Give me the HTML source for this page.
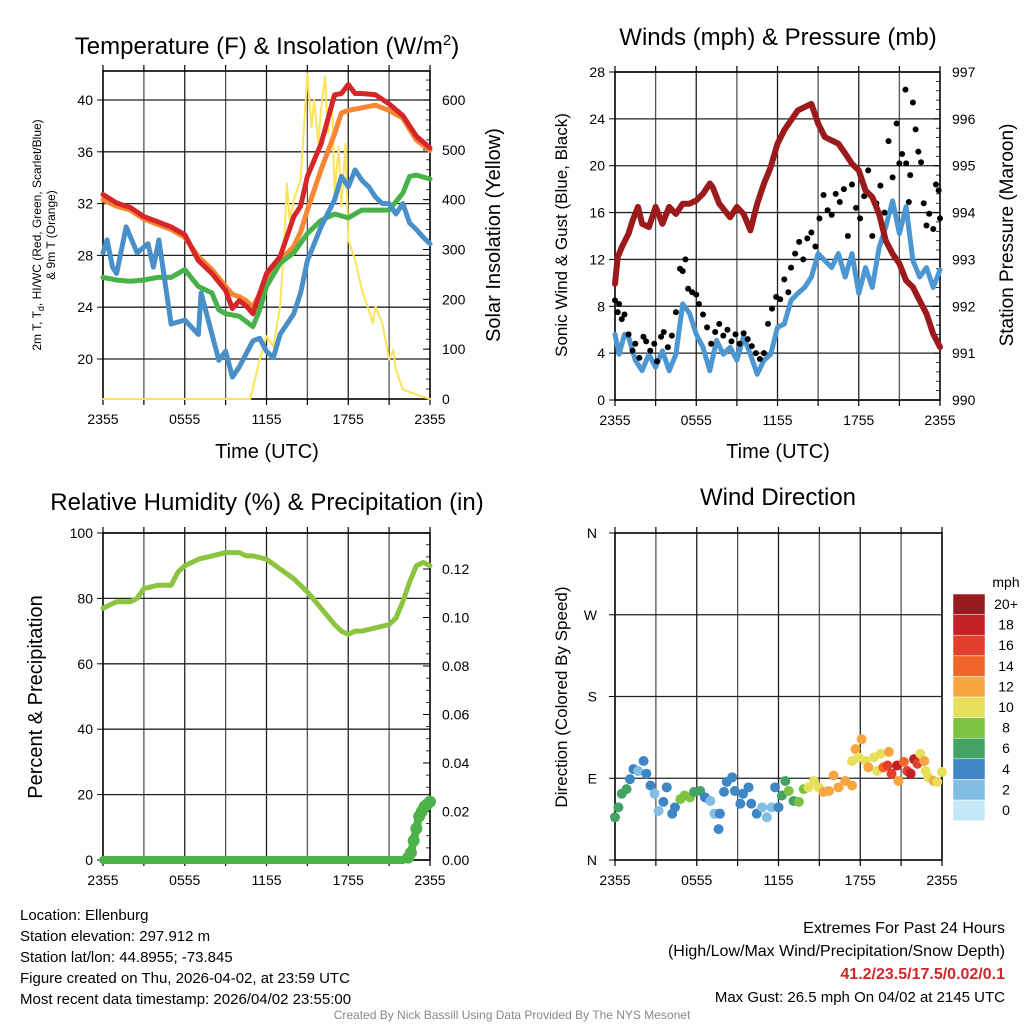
<!DOCTYPE html>
<html><head><meta charset="utf-8"><style>
body{margin:0;background:#fff}
svg{display:block;font-family:"Liberation Sans",Arial,sans-serif}
</style></head><body>
<svg id="c" width="1024" height="1024" viewBox="0 0 1024 1024"></svg>
<script>
// ---- data ----
const xTickLabels=["2355","0555","1155","1755","2355"];
const tHours=[0,1,2,3,4,5,6,7,8,9,9.5,10,10.5,11,12,13,14,14.5,15,16,17,17.5,18,18.5,19,20,21,22,23,24];
const redT=[32.7,32.05,31.7,31.0,30.6,30.2,29.6,27.6,26.6,25.3,23.9,24.5,24.1,23.5,26.6,27.9,31.0,31.8,34.1,36.6,40.4,40.5,41.2,40.5,40.5,40.4,39.7,38.8,37.2,36.3];
const orangeT=[32.3,31.8,31.5,30.8,30.4,30.0,29.4,27.9,26.9,25.6,25.0,24.8,24.5,24.0,26.1,27.6,28.7,29.8,31.5,34.6,37.4,39.0,39.2,39.3,39.4,39.6,39.2,38.6,36.9,36.1];
const gHours=[0,1,2,3,4,5,6,7,8,8.5,9,10,11,11.5,12,13,14,15,16,17,18,19,20,21,22,22.5,23,24];
const greenT=[26.3,26.1,26.0,26.1,26.3,26.3,26.9,25.6,25.1,23.8,23.5,23.3,22.5,23.8,25.6,27.4,28.2,29.7,30.7,31.2,30.9,31.5,31.5,31.5,32.8,34.1,34.2,33.9];
const bHours=[0,0.3,0.7,1,1.7,2.5,3.3,3.7,4.1,4.5,5,6,7,7.2,8,8.5,9,9.5,10,10.5,11,11.5,12,12.5,13,14,14.5,15,16,17,17.5,18,18.5,19,19.5,20,20.5,21,21.5,22,22.5,23,23.5,24];
const blueT=[28.2,29.2,27.1,26.6,30.2,28.2,28.9,27.1,29.2,26.3,22.7,23.0,21.9,25.1,21.9,19.9,20.6,18.6,19.4,20.4,21.4,21.6,20.6,20.1,21.9,23.5,25.1,27.6,30.2,32.3,34.1,33.3,34.6,33.8,33.3,32.5,32.0,32.0,31.2,32.0,30.5,30.0,29.4,28.9];
const sHours=[0,10.8,11.5,12,12.5,13,13.3,13.5,13.7,14,14.5,15,15.3,15.5,15.8,16,16.3,16.5,16.8,17,17.3,17.5,17.8,18,18.5,19,19.5,19.8,20,20.5,21,21.3,21.5,22,23,24];
const solar=[0,0,79,126,105,186,313,433,359,400,440,653,546,600,513,580,647,533,607,413,506,386,513,319,279,219,179,152,186,152,79,99,59,19,9,0];
const pHours=[0,0.2,0.5,1,1.3,1.7,2,2.5,3,3.5,4,4.5,5,5.5,6,6.5,7,7.2,7.7,8.5,9,9.5,10,10.5,11,11.5,12,12.5,13,13.5,14,14.5,15,15.5,16,16.5,17,17.5,18,18.5,19,19.5,20,20.5,21,21.5,22,22.5,23,23.5,24];
const pressure=[992.48,993.05,993.26,993.55,993.83,994.12,993.76,993.69,994.12,993.76,994.12,993.97,994.19,994.19,994.26,994.40,994.62,994.55,994.19,993.90,994.12,993.97,993.62,994.19,994.62,994.97,995.47,995.76,995.97,996.18,996.25,996.32,995.90,995.61,995.54,995.47,995.26,995.04,994.90,994.47,994.33,993.97,993.40,993.12,992.91,992.55,992.41,992.12,991.84,991.41,991.13];
const wHours=[0,0.3,0.7,1,1.5,2,2.5,3,3.5,4,4.5,5,5.5,6,6.5,7,7.5,8,8.5,9,9.5,10,10.5,11,11.5,12,12.5,13,13.5,14,14.5,15,15.5,16,16.5,17,17.5,18,18.5,19,19.5,20,20.5,21,21.5,22,22.5,23,23.5,24];
const wind=[5.6,3.9,5.6,5.4,3.4,2.5,3.9,2.8,4.2,2.5,3.9,8.2,7.4,5.6,4.5,2.5,5.1,3.9,4.5,3.4,5.4,3.9,2.2,3.4,3.9,6.2,6.5,8.5,9.1,9.6,10.5,12.5,11.9,11.3,12.5,10.5,12.5,9.1,11.3,9.6,13.0,14.8,17.0,14.2,16.5,11.9,10.5,11.3,9.6,11.1];
const gustHours=[0,0.2,0.3,0.5,0.7,1,1.3,1.5,1.8,2.1,2.3,2.6,2.9,3.1,3.4,3.6,3.9,4.2,4.5,4.8,5,5.2,5.4,5.7,6,6.2,6.5,6.8,7.1,7.4,7.7,8,8.3,8.6,8.9,9.2,9.5,9.8,10.1,10.4,10.7,11,11.3,11.6,11.9,12.2,12.5,12.8,13,13.3,13.6,13.9,14.2,14.5,14.8,15.1,15.4,15.7,16,16.3,16.6,16.9,17.2,17.5,17.8,18.1,18.4,18.7,19,19.3,19.6,19.9,20.2,20.5,20.8,21,21.2,21.45,21.5,21.7,21.8,22,22.2,22.4,22.6,22.8,23,23.2,23.5,23.7,23.9,24];
const gust=[8.5,7.5,8.2,6.9,7.3,5.6,4.2,4.8,3.6,5.4,5.0,4.2,4.8,3.3,5.4,5.8,4.5,5.5,7.5,11.2,11.0,12.0,9.5,9.2,9.0,8.2,7.3,6.2,4.8,5.8,6.5,5.5,6.0,5.0,5.6,4.8,5.7,5.2,4.6,4.0,3.5,4.0,6.5,7.8,8.8,8.6,10.3,9.2,11.3,12.5,13.5,12.0,13.8,14.3,13.1,15.5,17.5,16.2,15.8,17.6,16.9,18.0,14.0,18.4,16.4,15.5,17.4,19.6,14.0,16.8,18.3,16.0,22.1,19.0,23.6,20.2,21.0,26.5,20.2,16.9,19.2,25.4,23.1,21.2,20.3,16.8,14.9,15.9,14.6,18.4,17.9,15.5];
const rhHours=[0,0.5,1,2,2.5,3,4,5,5.5,6,7,8,9,10,10.5,11,12,13,14,15,16,17,17.5,18,18.5,19,20,21,21.5,22,22.5,23,23.5,24];
const rh=[77,78,79,79,80,83,84,84,88,90,92,93,94,94,93,93,92,89,86,82,77,72,70,69,70,70,71,72,74,79,85,90,91,90];
const prHours=[0,1,2,3,4,5,6,7,8,9,10,11,12,13,14,15,16,17,18,19,20,21,22,22.4,22.6,22.8,23,23.2,23.4,23.6,23.8,24];
const precip=[0,0,0,0,0,0,0,0,0,0,0,0,0,0,0,0,0,0,0,0,0,0,0,0.001,0.003,0.008,0.013,0.018,0.02,0.022,0.023,0.024];
const dHours=[0,0.25,0.5,0.85,1.1,1.35,1.7,2.1,2.3,2.6,2.9,3.2,3.55,3.8,4.2,4.4,4.8,5.1,5.5,5.8,6.25,6.6,7.0,7.3,7.6,7.7,8.0,8.2,8.6,8.8,9.2,9.4,9.8,10.0,10.4,10.8,11.15,11.5,11.75,12.0,12.25,12.5,12.75,13.1,13.5,13.85,14.2,14.6,14.95,15.3,15.7,16.05,16.4,16.9,17.4,17.4,17.65,18.1,17.9,18.4,18.6,19.0,19.25,19.5,19.7,20.1,20.0,20.3,20.7,20.8,21.2,21.45,21.7,21.95,22.2,22.4,22.7,22.8,23.0,23.4,23.65,24.0];
const dirDeg=[47,58,73,78,89,100,98,109,95,82,73,54,64,80,51,58,67,71,69,75,76,69,65,51,34,51,75,86,91,76,62,73,80,62,51,58,47,58,80,58,71,87,76,65,64,78,80,87,80,75,76,93,80,87,82,109,122,133,113,109,102,113,98,117,102,119,104,95,104,87,108,98,95,111,106,117,109,98,91,87,86,97];
const dirSpd=[6,6,6,6,4,4,2,4,4,4,2,2,4,4,4,4,8,8,8,6,6,4,2,2,4,4,4,4,4,4,4,4,4,4,4,2,2,2,4,4,6,6,8,6,8,8,10,10,10,12,12,12,12,12,12,10,12,12,10,10,12,10,10,10,14,12,16,16,18,12,14,16,18,18,16,10,12,10,10,12,10,10];
const cbLabels=["0","2","4","6","8","10","12","14","16","18","20+"];
const cbColors=["#c4e8f8","#82bde6","#3f86c5","#43a364","#7dc243","#e6e05b","#f7a540","#f0652a","#e2402c","#c21f27","#971b1e"];

// ---- helpers ----
const NS="http://www.w3.org/2000/svg", S=document.getElementById('c');
function el(t,a,txt,p){const e=document.createElementNS(NS,t);for(const k in a)e.setAttribute(k,a[k]);if(txt!=null)e.textContent=txt;(p||S).appendChild(e);return e;}
function txt(x,y,s,size,anchor,rot,extra){const a={x:x,y:y,'font-size':size,'text-anchor':anchor||'middle',fill:'#000'};if(rot)a.transform='rotate('+rot+' '+x+' '+y+')';Object.assign(a,extra||{});const e=el('text',a,s);return e;}
function lin(d0,d1,r0,r1){return v=>r0+(v-d0)*(r1-r0)/(d1-d0);}
function path(xs,ys,fx,fy){return xs.map((h,i)=>(i?'L':'M')+fx(h).toFixed(1)+','+fy(ys[i]).toFixed(1)).join('');}

function frame(x0,x1,y0,y1,leftTicks,fyL,rightTicks,fyR,rightMinor,name){
  const g=el('g',{});
  
  
  const fx=lin(0,24,x0,x1);
  for(let h=3;h<24;h+=3){const l=el('line',{x1:fx(h),x2:fx(h),y1:y0,y2:y1,stroke:(h%6?'#555':'#222'),'stroke-width':1.3},null,g);}
  leftTicks.forEach(v=>{const y=fyL(v);const l=el('line',{x1:x0,x2:x1,y1:y,y2:y,stroke:'#222','stroke-width':1.3},null,g);});
  for(let h=0;h<=24;h+=3){el('line',{x1:fx(h),x2:fx(h),y1:y1,y2:y1+6,stroke:'#000','stroke-width':1.2},null,g);el('line',{x1:fx(h),x2:fx(h),y1:y0,y2:y0-6,stroke:'#000','stroke-width':1.2},null,g);}
  xTickLabels.forEach((s,i)=>{const t=txt(fx(i*6),y1+25,s,14);});
  leftTicks.forEach(v=>{const t=txt(x0-10,fyL(v)+5,String(v),14,'end');el('line',{x1:x0-6,x2:x0,y1:fyL(v),y2:fyL(v),stroke:'#000'},null,g);});
  if(rightTicks){rightTicks.forEach(r=>{const t=txt(x1+12,fyR(r[0])+5,r[1],14,'start');el('line',{x1:x1-7,x2:x1,y1:fyR(r[0]),y2:fyR(r[0]),stroke:'#000'},null,g);});
    rightMinor.forEach(v=>el('line',{x1:x1-4,x2:x1,y1:fyR(v),y2:fyR(v),stroke:'#000','stroke-width':0.8},null,g));}
  el('rect',{x:x0,y:y0,width:x1-x0,height:y1-y0,fill:'none',stroke:'#000','stroke-width':1.6},null,g);
  return fx;
}

// ---- Panel 1: temperature ----
const p1y=lin(40,20,100,359), p1s=lin(0,600,399,100);
const fx1=frame(103,430,71,399,[20,24,28,32,36,40],p1y,[[0,'0'],[100,'100'],[200,'200'],[300,'300'],[400,'400'],[500,'500'],[600,'600']],p1s,Array.from({length:33},(_,i)=>i*20),'temperature-panel');
function series(xs,ys,fx,fy,col,w,name){const p=el('path',{d:path(xs,ys,fx,fy),fill:'none',stroke:col,'stroke-width':w,'stroke-linejoin':'round','stroke-linecap':'round'});}
series(sHours,solar,fx1,p1s,'#fbe35a',2,'solar-line');
series(tHours,orangeT,fx1,p1y,'#f58632',5,'temp-9m-line');
series(gHours,greenT,fx1,p1y,'#47b249',5,'dewpoint-line');
series(bHours,blueT,fx1,p1y,'#4a90c8',5,'windchill-line');
series(tHours,redT,fx1,p1y,'#d6262a',5,'temp-2m-line');
let t=txt(267,54,'',24);t.innerHTML='Temperature (F) &amp; Insolation (W/m<tspan dy="-9" font-size="15">2</tspan><tspan dy="9">)</tspan>';
t=txt(41,235,'',12,'middle',-90);t.innerHTML='2m T, T<tspan dy="3" font-size="9">d</tspan><tspan dy="-3">, HI/WC (Red, Green, Scarlet/Blue)</tspan>';
t=txt(55,235,'& 9m T (Orange)',12,'middle',-90);
t=txt(500,235,'Solar Insolation (Yellow)',20,'middle',-90);
t=txt(267,458,'Time (UTC)',20);

// ---- Panel 2: winds ----
const p2y=lin(0,28,400,72), p2p=lin(990,997,400,72);
const fx2=frame(615,940,72,400,[0,4,8,12,16,20,24,28],p2y,[[990,'990'],[991,'991'],[992,'992'],[993,'993'],[994,'994'],[995,'995'],[996,'996'],[997,'997']],p2p,Array.from({length:36},(_,i)=>990+i*0.2),'winds-panel');
series(wHours,wind,fx2,p2y,'#4c97d2',5,'sonic-wind-line');
gustHours.forEach((h,i)=>{const c=el('circle',{cx:fx2(h),cy:p2y(gust[i]),r:3,fill:'#000'});});
series(pHours,pressure,fx2,p2p,'#9b1a1c',6,'pressure-line');
t=txt(778,45,'Winds (mph) & Pressure (mb)',24);
t=txt(567,235,'Sonic Wind & Gust (Blue, Black)',17,'middle',-90);
t=txt(1013,235,'Station Pressure (Maroon)',19,'middle',-90);
t=txt(778,458,'Time (UTC)',20);

// ---- Panel 3: RH ----
const p3y=lin(0,100,860,533), p3p=lin(0,0.12,860,569);
const fx3=frame(103,430,533,860,[0,20,40,60,80,100],p3y,[[0,'0.00'],[0.02,'0.02'],[0.04,'0.04'],[0.06,'0.06'],[0.08,'0.08'],[0.1,'0.10'],[0.12,'0.12']],p3p,Array.from({length:28},(_,i)=>i*0.005),'humidity-panel');
series(rhHours,rh,fx3,p3y,'#8cc43f',5,'rh-line');
series(prHours,precip,fx3,p3p,'#4cb34a',8,'precip-line');
prHours.forEach((h,i)=>{if(precip[i]>0){const c=el('circle',{cx:fx3(h),cy:p3p(precip[i]),r:6,fill:'#4cb34a'});}});
t=txt(267,510,'Relative Humidity (%) & Precipitation (in)',24);
t=txt(42,697,'Percent & Precipitation',20,'middle',-90);

// ---- Panel 4: direction ----
const p4y=lin(0,360,860,533);
const fx4=frame(615,942,533,860,[],p4y,null,null,null,'direction-panel');
[[0,'N'],[90,'E'],[180,'S'],[270,'W'],[360,'N']].forEach(d=>{const y=p4y(d[0]);if(d[0]>0&&d[0]<360)el('line',{x1:615,x2:942,y1:y,y2:y,stroke:'#222','stroke-width':1.3});el('line',{x1:609,x2:615,y1:y,y2:y,stroke:'#000'});const tt=txt(597,y+5,d[1],14,'end');});
dHours.forEach((h,i)=>{const c=el('circle',{cx:fx4(h),cy:p4y(dirDeg[i]),r:5,fill:cbColors[Math.min(10,Math.floor(dirSpd[i]/2))]});});
t=txt(778,505,'Wind Direction',24);
t=txt(567,697,'Direction (Colored By Speed)',17,'middle',-90);
// colorbar
cbColors.forEach((c,i)=>{const r=el('rect',{x:953,y:800-i*20.6,width:32,height:20.6,fill:c,stroke:'#fff','stroke-width':0.5});const tt=txt(1006,815-i*20.6,cbLabels[i],14);});
t=txt(1006,587,'mph',14);

// ---- footer ----
['Location: Ellenburg','Station elevation: 297.912 m','Station lat/lon: 44.8955; -73.845','Figure created on Thu, 2026-04-02, at 23:59 UTC','Most recent data timestamp: 2026/04/02 23:55:00'].forEach((s,i)=>{const tt=txt(20,920+i*21,s,15,'start');});
t=txt(1005,933,'Extremes For Past 24 Hours',16,'end');
t=txt(1005,956,'(High/Low/Max Wind/Precipitation/Snow Depth)',16,'end');
t=txt(1005,979,'41.2/23.5/17.5/0.02/0.1',16,'end',0,{'font-weight':'bold',fill:'#d0262a'});
t=txt(1005,1002,'Max Gust: 26.5 mph On 04/02 at 2145 UTC',15,'end');
t=txt(512,1019,'Created By Nick Bassill Using Data Provided By The NYS Mesonet',12,'middle',0,{fill:'#888'});
</script>
</body></html>
